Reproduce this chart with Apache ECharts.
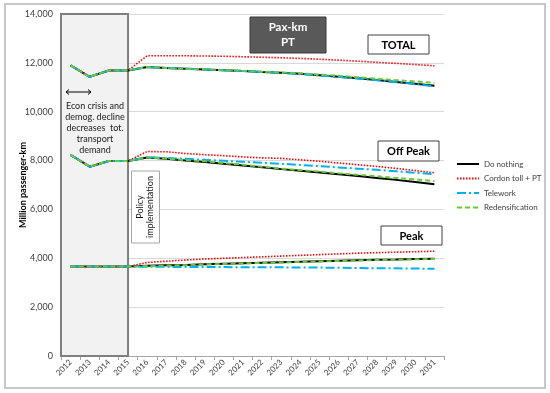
<!DOCTYPE html>
<html>
<head>
<meta charset="utf-8">
<script src="https://cdn.jsdelivr.net/npm/echarts@6/dist/echarts.min.js"></script>
<style>
html,body{margin:0;padding:0;background:#fff;}
#c{width:550px;height:393px;}
</style>
</head>
<body>
<div id="c"></div>
<script>
var years = ['2012','2013','2014','2015','2016','2017','2018','2019','2020','2021','2022','2023','2024','2025','2026','2027','2028','2029','2030','2031'];
var yTicks = [0, 2000, 4000, 6000, 8000, 10000, 12000, 14000];

// Shared history 2012-2015
var histTotal = [11900, 11430, 11690, 11690];
var histOff   = [8230, 7750, 7980, 7980];
var histPeak  = [3660, 3660, 3660, 3660];

// 2016-2031 by scenario
var doNothingTotal = [11830, 11790, 11760, 11730, 11700, 11670, 11630, 11600, 11550, 11490, 11430, 11370, 11300, 11220, 11140, 11060];
var doNothingOff   = [8130, 8070, 8000, 7940, 7870, 7800, 7730, 7650, 7580, 7510, 7440, 7370, 7290, 7210, 7120, 7030];
var doNothingPeak  = [3690, 3710, 3730, 3760, 3780, 3800, 3820, 3840, 3860, 3880, 3900, 3920, 3940, 3950, 3970, 3980];

var cordonTotal = [12290, 12290, 12290, 12280, 12270, 12250, 12230, 12210, 12180, 12150, 12110, 12070, 12020, 11980, 11930, 11880];
var cordonOff   = [8370, 8360, 8290, 8240, 8200, 8150, 8110, 8090, 8030, 7970, 7900, 7830, 7760, 7680, 7590, 7500];
var cordonPeak  = [3830, 3880, 3930, 3970, 4000, 4030, 4060, 4090, 4120, 4150, 4180, 4210, 4230, 4250, 4270, 4290];

var teleTotal = [11830, 11790, 11760, 11730, 11700, 11670, 11630, 11590, 11540, 11480, 11420, 11360, 11290, 11210, 11130, 11040];
var teleOff   = [8140, 8110, 8070, 8030, 7990, 7950, 7910, 7870, 7820, 7770, 7720, 7670, 7620, 7560, 7500, 7440];
var telePeak  = [3650, 3650, 3640, 3640, 3640, 3630, 3630, 3630, 3620, 3620, 3610, 3600, 3590, 3590, 3580, 3570];

var redensTotal = [11830, 11790, 11760, 11730, 11700, 11670, 11640, 11610, 11570, 11520, 11470, 11410, 11350, 11290, 11240, 11180];
var redensOff   = [8130, 8080, 8020, 7970, 7900, 7830, 7750, 7670, 7610, 7550, 7480, 7420, 7360, 7290, 7230, 7160];
var redensPeak  = [3680, 3700, 3720, 3750, 3770, 3790, 3810, 3830, 3850, 3870, 3890, 3910, 3930, 3940, 3960, 3970];

var scenarios = [
  {name: 'Do nothing', color: '#000000', width: 2, type: 'solid', t: doNothingTotal, o: doNothingOff, p: doNothingPeak},
  {name: 'Cordon toll + PT', color: '#ff0000', width: 1.6, type: [1.5, 1.5], t: cordonTotal, o: cordonOff, p: cordonPeak},
  {name: 'Telework', color: '#00b0f0', width: 2, type: [9, 3, 2, 3], t: teleTotal, o: teleOff, p: telePeak},
  {name: 'Redensification', color: '#66cc33', width: 2, type: [5, 3], t: redensTotal, o: redensOff, p: redensPeak}
];

var FONT = 'Lato, "Open Sans", sans-serif';
var series = [];
scenarios.forEach(function (s, i) {
  [[histTotal, s.t], [histOff, s.o], [histPeak, s.p]].forEach(function (pair) {
    series.push({
      name: s.name,
      type: 'line',
      data: pair[0].concat(pair[1]),
      symbol: 'none',
      showSymbol: false,
      z: 3 + i,
      lineStyle: {color: s.color, width: s.width, type: s.type},
      itemStyle: {color: s.color},
      animation: false
    });
  });
});

var chart = echarts.init(document.getElementById('c'), null, {renderer: 'canvas'});
var option = {
  animation: false,
  backgroundColor: '#ffffff',
  grid: {left: 61, right: 106, top: 14, bottom: 37, containLabel: false},
  legend: {
    orient: 'vertical',
    left: 456,
    top: 160,
    padding: 0,
    itemWidth: 22,
    itemHeight: 8,
    itemGap: 6.5,
    itemStyle: {opacity: 0},
    data: scenarios.map(function (s) { return s.name; }),
    textStyle: {fontFamily: FONT, fontSize: 8, color: '#404040'}
  },
  xAxis: {
    type: 'category',
    data: years,
    boundaryGap: true,
    axisLine: {lineStyle: {color: '#a6a6a6', width: 1}},
    axisTick: {show: true, length: 4, lineStyle: {color: '#a6a6a6'}},
    axisLabel: {rotate: 45, fontFamily: FONT, fontSize: 8, color: '#404040', margin: 5, interval: 0}
  },
  yAxis: {
    type: 'value',
    min: 0, max: 14000, interval: 2000,
    name: 'Million passenger-km',
    nameLocation: 'middle',
    nameGap: 33,
    nameMoveOverlap: false,
    nameRotate: 90,
    nameTextStyle: {fontFamily: FONT, fontSize: 9, fontWeight: 'bold', color: '#000'},
    axisLine: {show: true, lineStyle: {color: '#a6a6a6'}},
    axisTick: {show: false},
    splitLine: {lineStyle: {color: '#d9d9d9', width: 1}},
    axisLabel: {
      fontFamily: FONT, fontSize: 9, color: '#404040', margin: 8,
      formatter: function (v) { return v.toLocaleString('en-US'); }
    }
  },
  series: series
};
chart.setOption(option);

// Annotation box spanning from grid left edge to the 2015 category, full y range
var pTop = chart.convertToPixel({gridIndex: 0}, ['2015', yTicks[yTicks.length - 1]]);
var pBot = chart.convertToPixel({gridIndex: 0}, ['2012', yTicks[0]]);
var gridLeft = 61;

chart.setOption({
  graphic: [
    {type: 'rect', shape: {x: 5, y: 4, width: 540, height: 384}, style: {fill: 'none', stroke: '#c8c8c8', lineWidth: 2}, z: 0, silent: true},
    {type: 'rect', shape: {x: gridLeft, y: pTop[1], width: pTop[0] - gridLeft, height: pBot[1] - pTop[1]},
      style: {fill: '#f2f2f2', stroke: '#7f7f7f', lineWidth: 2}, z: 1, silent: true},
    // double arrow
    {type: 'line', shape: {x1: 66, y1: 92, x2: 91, y2: 92}, style: {stroke: '#000', lineWidth: 1}, z: 2},
    {type: 'polyline', shape: {points: [[69, 89.5], [66, 92], [69, 94.5]]}, style: {stroke: '#000', lineWidth: 1, fill: 'none'}, z: 2},
    {type: 'polyline', shape: {points: [[88, 89.5], [91, 92], [88, 94.5]]}, style: {stroke: '#000', lineWidth: 1, fill: 'none'}, z: 2},
    {type: 'text', x: 95, y: 101, z: 2, style: {text: 'Econ crisis and\ndemog. decline\ndecreases  tot.\ntransport\ndemand', fontFamily: FONT, fontSize: 9, lineHeight: 11, fill: '#1a1a1a', align: 'center', verticalAlign: 'top'}},
    // Policy implementation box
    {type: 'rect', shape: {x: 131.5, y: 171, width: 28, height: 72}, style: {fill: '#ffffff', stroke: '#a6a6a6', lineWidth: 1}, z: 2},
    {type: 'text', x: 145.5, y: 207, rotation: Math.PI / 2, z: 3, style: {text: 'Policy\nimplementation', fontFamily: FONT, fontSize: 9, lineHeight: 10, fill: '#1a1a1a', align: 'center', verticalAlign: 'middle'}},
    // Pax-km PT title box
    {type: 'rect', shape: {x: 250, y: 17, width: 76, height: 36}, style: {fill: '#595959', stroke: '#3a3a3a', lineWidth: 1}, z: 10},
    {type: 'text', x: 288, y: 35, z: 11, style: {text: 'Pax-km\nPT', fontFamily: FONT, fontSize: 11.5, fontWeight: 'bold', lineHeight: 15, fill: '#ffffff', align: 'center', verticalAlign: 'middle'}},
    // TOTAL
    {type: 'rect', shape: {x: 368, y: 35, width: 61, height: 19}, style: {fill: '#ffffff', stroke: '#404040', lineWidth: 1}, z: 10},
    {type: 'text', x: 398.5, y: 45, z: 11, style: {text: 'TOTAL', fontFamily: FONT, fontSize: 11, fontWeight: 'bold', fill: '#000', align: 'center', verticalAlign: 'middle'}},
    // Off Peak
    {type: 'rect', shape: {x: 378, y: 141, width: 61, height: 20}, style: {fill: '#ffffff', stroke: '#404040', lineWidth: 1}, z: 10},
    {type: 'text', x: 408.5, y: 151.5, z: 11, style: {text: 'Off Peak', fontFamily: FONT, fontSize: 11, fontWeight: 'bold', fill: '#000', align: 'center', verticalAlign: 'middle'}},
    // Peak
    {type: 'rect', shape: {x: 381, y: 226, width: 61, height: 19}, style: {fill: '#ffffff', stroke: '#404040', lineWidth: 1}, z: 10},
    {type: 'text', x: 411.5, y: 236, z: 11, style: {text: 'Peak', fontFamily: FONT, fontSize: 11, fontWeight: 'bold', fill: '#000', align: 'center', verticalAlign: 'middle'}}
  ]
});
</script>
</body>
</html>
